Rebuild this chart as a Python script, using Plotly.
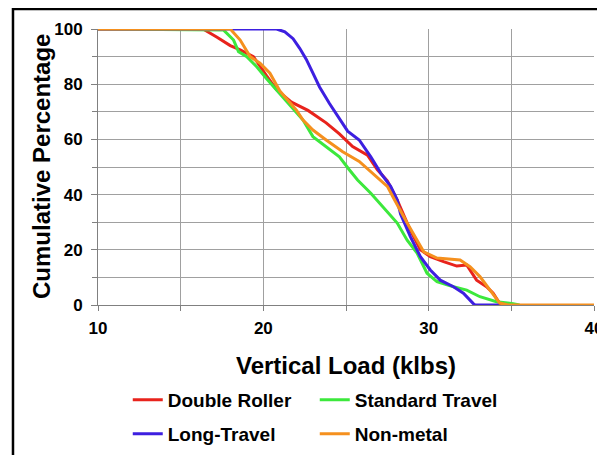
import plotly.graph_objects as go

# ---- data ----
dr_x = [10, 16.35, 17.2, 18.0, 18.6, 19.4, 20.2, 20.8, 21.7, 22.7, 23.8, 24.6, 25.4, 26.3, 26.9, 27.5, 28.1, 28.9, 29.5, 30.1, 30.9, 31.7, 32.3, 32.9, 33.5, 33.9, 34.3, 34.6]
dr_y = [100, 100, 97, 94, 92.4, 90, 83, 78, 73.5, 70.5, 66, 62, 57.4, 54.3, 49, 45, 38, 27, 20, 17.5, 15.7, 14.1, 14.5, 9, 6.6, 4.3, 0.5, 0]

st_x = [10, 17.6, 18.2, 18.5, 19.0, 19.6, 20.2, 20.8, 21.6, 22.4, 23.0, 23.8, 24.6, 25.2, 25.7, 26.5, 27.2, 28.1, 28.7, 29.3, 29.9, 30.5, 31.5, 32.3, 33.1, 34.1, 35.1, 35.5]
st_y = [100, 99.6, 96, 91.8, 90, 86.3, 82, 78, 72.5, 67, 61, 57.4, 53.7, 49, 45.3, 40.5, 35.6, 29.7, 23.5, 18.8, 11.5, 8.5, 6.6, 5.4, 3, 1.2, 0.5, 0]

lt_x = [10, 20.8, 21.3, 21.8, 22.2, 22.6, 23.0, 23.4, 24.0, 24.6, 25.1, 25.8, 26.5, 27.1, 27.7, 28.1, 28.3, 28.9, 29.5, 30.1, 30.7, 31.5, 32.1, 32.7, 32.8, 34.3]
lt_y = [100, 100, 99, 96.5, 93, 89, 84, 79, 73, 67.5, 63, 59.8, 53.7, 47.8, 43, 38, 33, 24.7, 17.5, 12.7, 9, 6.6, 4.3, 0.5, 0, 0]

nm_x = [10, 18.0, 18.6, 19.2, 19.8, 20.4, 21.0, 22.0, 22.4, 23.0, 23.8, 24.8, 25.8, 26.6, 27.5, 27.9, 28.7, 29.7, 30.5, 31.9, 32.5, 33.1, 33.7, 34.3, 34.8, 40]
nm_y = [100, 100, 96, 90, 87.6, 84, 77.5, 70.6, 67, 63.4, 59.8, 55.5, 52, 47.8, 43, 38.5, 29.7, 19.3, 17, 16.3, 13.9, 10.3, 5.4, 0.7, 0, 0]

series_names = ["Double Roller", "Standard Travel", "Long-Travel", "Non-metal"]
series_colors = ["#e8231c", "#3ce83c", "#3d1fe0", "#f5901e"]
series_legend = ["legend", "legend", "legend2", "legend2"]
series_x = [dr_x, st_x, lt_x, nm_x]
series_y = [dr_y, st_y, lt_y, nm_y]

x_ticks = [10, 20, 30, 40]
y_ticks = [0, 20, 40, 60, 80, 100]

FONT = "Liberation Sans, Arial, sans-serif"

fig = go.Figure()
for name, col, lg, xs, ys in zip(series_names, series_colors, series_legend, series_x, series_y):
    fig.add_trace(go.Scatter(x=xs, y=ys, mode="lines", name=name, legend=lg,
                             line=dict(color=col, width=3)))

grid = "#a0a0a0"
legend_style = dict(orientation="h", xanchor="left", yanchor="middle",
                    entrywidth=142, entrywidthmode="pixels",
                    font=dict(size=19, family=FONT, color="black", weight="bold"),
                    bgcolor="rgba(0,0,0,0)")
# the page body adds an 8px offset, so the figure is 8px smaller and margins shifted
fig.update_layout(
    width=597, height=447,
    autosize=False,
    margin=dict(l=90, r=11, t=21, b=150, autoexpand=False),
    paper_bgcolor="white", plot_bgcolor="white",
    font=dict(family=FONT, color="black"),
    showlegend=True,
    legend=dict(x=0.06, y=-0.344, **legend_style),
    legend2=dict(x=0.06, y=-0.467, **legend_style),
    xaxis=dict(range=[10, 40], tickvals=x_ticks, showgrid=True, gridcolor=grid, gridwidth=1,
               automargin=False,
               ticks="outside", ticklen=5, tickcolor="#808080",
               showline=True, linecolor="#808080", linewidth=1,
               tickfont=dict(size=17, family=FONT, weight="bold"),
               ticklabelstandoff=3, ticklabeloverflow="allow",
               minor=dict(dtick=5, showgrid=True, gridcolor=grid, ticks="outside", ticklen=5, tickcolor="#808080"),
               zeroline=False,
               title=dict(text="Vertical Load (klbs)", font=dict(size=24, family=FONT, weight="bold"), standoff=19)),
    yaxis=dict(range=[0, 100], tickvals=y_ticks, showgrid=True, gridcolor=grid, gridwidth=1,
               automargin=False,
               ticks="outside", ticklen=6, tickcolor="#808080",
               showline=True, linecolor="#808080", linewidth=1,
               tickfont=dict(size=17, family=FONT, weight="bold"),
               ticklabelstandoff=5,
               minor=dict(dtick=10, showgrid=True, gridcolor=grid, ticks="outside", ticklen=5, tickcolor="#808080"),
               zeroline=False),
    annotations=[dict(text="Cumulative Percentage", xref="paper", yref="paper", x=-0.1149, y=0.5,
                      xanchor="center", yanchor="middle", textangle=-90, showarrow=False,
                      font=dict(size=24, family=FONT, weight="bold", color="black"))],
    shapes=[dict(type="rect", xref="paper", yref="paper", x0=-0.1714, x1=1.2, y0=-1.0, y1=1.0725,
                 line=dict(color="black", width=2.5), fillcolor="rgba(0,0,0,0)", layer="above")],
)

fig.write_html("out.html", post_script="document.body.style.overflow='hidden';")
